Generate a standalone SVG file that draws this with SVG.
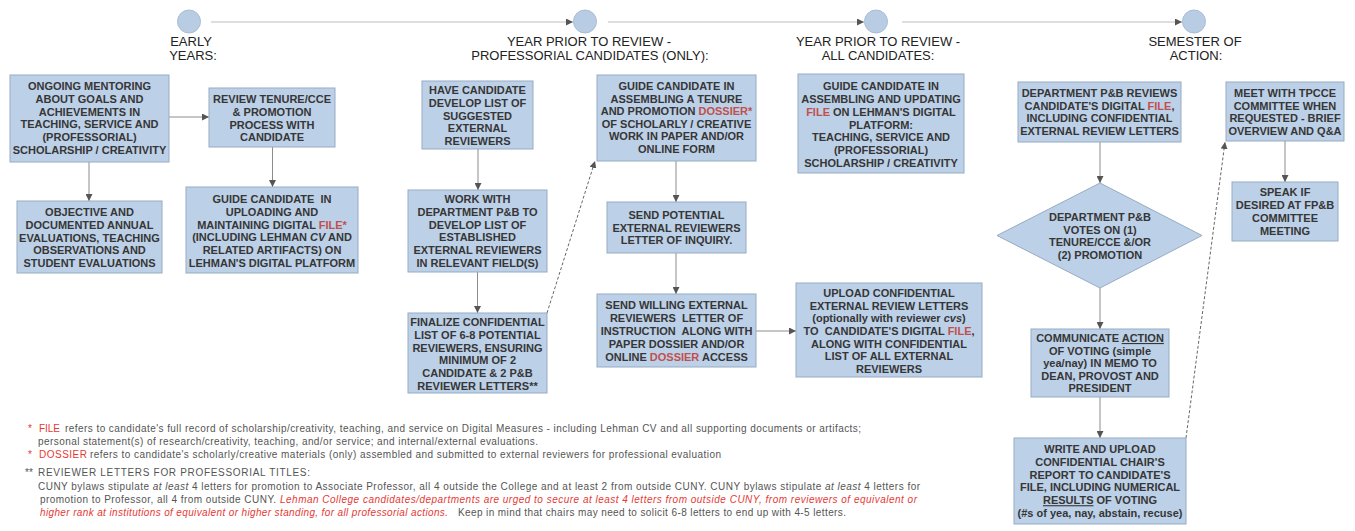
<svg xmlns="http://www.w3.org/2000/svg" width="1355" height="531" viewBox="0 0 1355 531">
<style>
.box{fill:#bcd0e7;stroke:#97abc3;stroke-width:1}
.dot{fill:#b8cce4;stroke:#a9bdd6;stroke-width:1}
.bt{font-family:"Liberation Sans",Arial,sans-serif;font-size:11px;font-weight:bold;fill:#363636;text-anchor:middle}
.red{fill:#c0504d}
.lbl{font-family:"Liberation Sans",Arial,sans-serif;font-size:13px;fill:#222;text-anchor:middle}
.conn{stroke:#8c8c8c;stroke-width:1;fill:none}
.dash{stroke:#666;stroke-dasharray:3,2}
.tl{stroke:#bdbdbd;stroke-width:1.2;fill:none}
.fn{font-family:"Liberation Sans",Arial,sans-serif;font-size:10px;fill:#555}
.fr{fill:#e53935}
.it{font-style:italic}
</style>
<defs>
<marker id="ah" viewBox="0 0 10 10" refX="10" refY="5" markerWidth="7" markerHeight="7" markerUnits="userSpaceOnUse" orient="auto">
<path d="M0,0 L10,5 L0,10 z" fill="#555"/>
</marker>
</defs>
<rect width="1355" height="531" fill="#fff"/>

<g id="timeline">
<circle class="dot" cx="189" cy="21.5" r="11.5"/>
<circle class="dot" cx="585" cy="21.5" r="11.5"/>
<circle class="dot" cx="876" cy="21.5" r="11.5"/>
<circle class="dot" cx="1194" cy="21.5" r="11.5"/>
<text class="lbl" x="191" y="46">EARLY</text>
<text class="lbl" x="193" y="60">YEARS:</text>
<text class="lbl" x="589" y="46">YEAR PRIOR TO REVIEW -</text>
<text class="lbl" x="590" y="60">PROFESSORIAL CANDIDATES (ONLY):</text>
<text class="lbl" x="878" y="46">YEAR PRIOR TO REVIEW -</text>
<text class="lbl" x="878" y="60">ALL CANDIDATES:</text>
<text class="lbl" x="1195" y="46">SEMESTER OF</text>
<text class="lbl" x="1196" y="60">ACTION:</text>
</g>

<g id="connectors">
<line class="tl" x1="211" y1="22" x2="573" y2="22" marker-end="url(#ah)"/>
<line class="tl" x1="608" y1="22" x2="864" y2="22" marker-end="url(#ah)"/>
<line class="tl" x1="902" y1="22" x2="1182" y2="22" marker-end="url(#ah)"/>
<line class="conn" x1="169" y1="117" x2="209" y2="117" marker-end="url(#ah)"/>
<line class="conn" x1="89" y1="162" x2="89" y2="201" marker-end="url(#ah)"/>
<line class="conn" x1="272.5" y1="147" x2="272.5" y2="187" marker-end="url(#ah)"/>
<line class="conn" x1="478" y1="149" x2="478" y2="190" marker-end="url(#ah)"/>
<line class="conn" x1="477.5" y1="272" x2="477.5" y2="313" marker-end="url(#ah)"/>
<line class="conn dash" x1="547" y1="313" x2="595" y2="161" marker-end="url(#ah)"/>
<line class="conn" x1="676" y1="161" x2="676" y2="202" marker-end="url(#ah)"/>
<line class="conn" x1="676" y1="253" x2="676" y2="294" marker-end="url(#ah)"/>
<line class="conn" x1="756" y1="331" x2="796" y2="331" marker-end="url(#ah)"/>
<line class="conn" x1="1100" y1="142" x2="1100" y2="183" marker-end="url(#ah)"/>
<line class="conn" x1="1100" y1="288" x2="1100" y2="329" marker-end="url(#ah)"/>
<line class="conn" x1="1100" y1="397" x2="1100" y2="438" marker-end="url(#ah)"/>
<line class="conn dash" x1="1186" y1="438" x2="1225" y2="142" marker-end="url(#ah)"/>
<line class="conn" x1="1285" y1="141" x2="1285" y2="182" marker-end="url(#ah)"/>
</g>

<g id="n-mentoring">
<rect class="box" x="10" y="75" width="159" height="87"/>
<text class="bt" x="89.5" y="90">ONGOING MENTORING</text>
<text class="bt" x="89.5" y="102.8">ABOUT GOALS AND</text>
<text class="bt" x="89.5" y="115.6">ACHIEVEMENTS IN</text>
<text class="bt" x="89.5" y="128.4">TEACHING, SERVICE AND</text>
<text class="bt" x="89.5" y="141.2">(PROFESSORIAL)</text>
<text class="bt" x="89.5" y="154">SCHOLARSHIP / CREATIVITY</text>
</g>

<g id="n-review">
<rect class="box" x="209" y="88" width="126" height="59"/>
<text class="bt" x="272" y="103">REVIEW TENURE/CCE</text>
<text class="bt" x="272" y="116">&amp; PROMOTION</text>
<text class="bt" x="272" y="129">PROCESS WITH</text>
<text class="bt" x="272" y="141">CANDIDATE</text>
</g>

<g id="n-objective">
<rect class="box" x="17" y="201" width="145" height="72"/>
<text class="bt" x="89.5" y="216">OBJECTIVE AND</text>
<text class="bt" x="89.5" y="228.8">DOCUMENTED ANNUAL</text>
<text class="bt" x="89.5" y="241.6">EVALUATIONS, TEACHING</text>
<text class="bt" x="89.5" y="254.4">OBSERVATIONS AND</text>
<text class="bt" x="89.5" y="267.2">STUDENT EVALUATIONS</text>
</g>

<g id="n-upload">
<rect class="box" x="186" y="187" width="172" height="86"/>
<text class="bt" x="272" y="203" xml:space="preserve">GUIDE CANDIDATE  IN</text>
<text class="bt" x="272" y="215.8">UPLOADING AND</text>
<text class="bt" x="272" y="228.6">MAINTAINING DIGITAL <tspan class="red">FILE*</tspan></text>
<text class="bt" x="272" y="241.4">(INCLUDING LEHMAN <tspan class="it">CV</tspan> AND</text>
<text class="bt" x="272" y="254.2">RELATED ARTIFACTS) ON</text>
<text class="bt" x="272" y="267">LEHMAN'S DIGITAL PLATFORM</text>
</g>

<g id="n-suggested">
<rect class="box" x="422" y="81" width="111" height="68"/>
<text class="bt" x="477.5" y="94">HAVE CANDIDATE</text>
<text class="bt" x="477.5" y="106.8">DEVELOP LIST OF</text>
<text class="bt" x="477.5" y="119.6">SUGGESTED</text>
<text class="bt" x="477.5" y="132.4">EXTERNAL</text>
<text class="bt" x="477.5" y="145.2">REVIEWERS</text>
</g>

<g id="n-dossier">
<rect class="box" x="597" y="75" width="159" height="86"/>
<text class="bt" x="676.5" y="90">GUIDE CANDIDATE IN</text>
<text class="bt" x="676.5" y="102.6">ASSEMBLING A TENURE</text>
<text class="bt" x="676.5" y="115.2">AND PROMOTION <tspan class="red">DOSSIER*</tspan></text>
<text class="bt" x="676.5" y="127.8">OF SCHOLARLY / CREATIVE</text>
<text class="bt" x="676.5" y="140.4">WORK IN PAPER AND/OR</text>
<text class="bt" x="676.5" y="153">ONLINE FORM</text>
</g>

<g id="n-established">
<rect class="box" x="408" y="190" width="139" height="82"/>
<text class="bt" x="477.5" y="203">WORK WITH</text>
<text class="bt" x="477.5" y="215.8">DEPARTMENT P&amp;B TO</text>
<text class="bt" x="477.5" y="228.6">DEVELOP LIST OF</text>
<text class="bt" x="477.5" y="241.4">ESTABLISHED</text>
<text class="bt" x="477.5" y="254.2">EXTERNAL REVIEWERS</text>
<text class="bt" x="477.5" y="267">IN RELEVANT FIELD(S)</text>
</g>

<g id="n-finalize">
<rect class="box" x="408" y="313" width="139" height="80"/>
<text class="bt" x="477.5" y="326">FINALIZE CONFIDENTIAL</text>
<text class="bt" x="477.5" y="338.8">LIST OF 6-8 POTENTIAL</text>
<text class="bt" x="477.5" y="351.6">REVIEWERS, ENSURING</text>
<text class="bt" x="477.5" y="364.4">MINIMUM OF 2</text>
<text class="bt" x="477.5" y="377.2">CANDIDATE &amp; 2 P&amp;B</text>
<text class="bt" x="477.5" y="390">REVIEWER LETTERS**</text>
</g>

<g id="n-inquiry">
<rect class="box" x="607" y="202" width="139" height="51"/>
<text class="bt" x="676.5" y="219">SEND POTENTIAL</text>
<text class="bt" x="676.5" y="231.5">EXTERNAL REVIEWERS</text>
<text class="bt" x="676.5" y="244">LETTER OF INQUIRY.</text>
</g>

<g id="n-instruction">
<rect class="box" x="597" y="294" width="159" height="73"/>
<text class="bt" x="676.5" y="309">SEND WILLING EXTERNAL</text>
<text class="bt" x="676.5" y="322" xml:space="preserve">REVIEWERS  LETTER OF</text>
<text class="bt" x="676.5" y="335" xml:space="preserve">INSTRUCTION  ALONG WITH</text>
<text class="bt" x="676.5" y="348">PAPER DOSSIER AND/OR</text>
<text class="bt" x="676.5" y="361">ONLINE <tspan class="red">DOSSIER</tspan> ACCESS</text>
</g>

<g id="n-letters">
<rect class="box" x="796" y="283" width="186" height="94"/>
<text class="bt" x="889" y="297">UPLOAD CONFIDENTIAL</text>
<text class="bt" x="889" y="309.7">EXTERNAL REVIEW LETTERS</text>
<text class="bt" x="889" y="322.3">(optionally with reviewer <tspan class="it">cvs</tspan>)</text>
<text class="bt" x="889" y="335" xml:space="preserve">TO  CANDIDATE'S DIGITAL <tspan class="red">FILE</tspan>,</text>
<text class="bt" x="889" y="347.7">ALONG WITH CONFIDENTIAL</text>
<text class="bt" x="889" y="360.3">LIST OF ALL EXTERNAL</text>
<text class="bt" x="889" y="373">REVIEWERS</text>
</g>

<g id="n-updating">
<rect class="box" x="798" y="74" width="166" height="99"/>
<text class="bt" x="881" y="90">GUIDE CANDIDATE IN</text>
<text class="bt" x="881" y="102.8">ASSEMBLING AND UPDATING</text>
<text class="bt" x="881" y="115.7"><tspan class="red">FILE</tspan> ON LEHMAN'S DIGITAL</text>
<text class="bt" x="881" y="128.5">PLATFORM:</text>
<text class="bt" x="881" y="141.3">TEACHING, SERVICE AND</text>
<text class="bt" x="881" y="154.2">(PROFESSORIAL)</text>
<text class="bt" x="881" y="167">SCHOLARSHIP / CREATIVITY</text>
</g>

<g id="n-deptreview">
<rect class="box" x="1018" y="82" width="163" height="60"/>
<text class="bt" x="1099.5" y="97">DEPARTMENT P&amp;B REVIEWS</text>
<text class="bt" x="1099.5" y="109.7">CANDIDATE'S DIGITAL <tspan class="red">FILE</tspan>,</text>
<text class="bt" x="1099.5" y="122.3">INCLUDING CONFIDENTIAL</text>
<text class="bt" x="1099.5" y="135">EXTERNAL REVIEW LETTERS</text>
</g>

<g id="n-votes">
<polygon class="box" points="1100,183 1202,235.5 1100,288 997,235.5"/>
<text class="bt" x="1100" y="221">DEPARTMENT P&amp;B</text>
<text class="bt" x="1100" y="233.7">VOTES ON (1)</text>
<text class="bt" x="1100" y="246.3">TENURE/CCE &amp;/OR</text>
<text class="bt" x="1100" y="259">(2) PROMOTION</text>
</g>

<g id="n-communicate">
<rect class="box" x="1031" y="329" width="138" height="68"/>
<text class="bt" x="1100" y="342">COMMUNICATE <tspan text-decoration="underline">ACTION</tspan></text>
<text class="bt" x="1100" y="354.5">OF VOTING (simple</text>
<text class="bt" x="1100" y="367">yea/nay) IN MEMO TO</text>
<text class="bt" x="1100" y="379.5">DEAN, PROVOST AND</text>
<text class="bt" x="1100" y="392">PRESIDENT</text>
</g>

<g id="n-write">
<rect class="box" x="1014" y="438" width="172" height="86"/>
<text class="bt" x="1100" y="453">WRITE AND UPLOAD</text>
<text class="bt" x="1100" y="465.8">CONFIDENTIAL CHAIR'S</text>
<text class="bt" x="1100" y="478.6">REPORT TO CANDIDATE'S</text>
<text class="bt" x="1100" y="491.4">FILE, INCLUDING NUMERICAL</text>
<text class="bt" x="1100" y="504.2"><tspan text-decoration="underline">RESULTS</tspan> OF VOTING</text>
<text class="bt" x="1100" y="517">(#s of yea, nay, abstain, recuse)</text>
</g>

<g id="n-meet">
<rect class="box" x="1226" y="82" width="118" height="59"/>
<text class="bt" x="1285" y="97">MEET WITH TPCCE</text>
<text class="bt" x="1285" y="109.7">COMMITTEE WHEN</text>
<text class="bt" x="1285" y="122.3">REQUESTED - BRIEF</text>
<text class="bt" x="1285" y="135">OVERVIEW AND Q&amp;A</text>
</g>

<g id="n-speak">
<rect class="box" x="1232" y="182" width="106" height="59"/>
<text class="bt" x="1285" y="196">SPEAK IF</text>
<text class="bt" x="1285" y="209">DESIRED AT FP&amp;B</text>
<text class="bt" x="1285" y="222">COMMITTEE</text>
<text class="bt" x="1285" y="235">MEETING</text>
</g>

<g id="footnotes">
<text class="fn fr" x="28" y="432">*</text>
<text class="fn fr" x="39" y="432" font-size="11" textLength="21" lengthAdjust="spacingAndGlyphs">FILE</text>
<text class="fn" x="65" y="432" textLength="796" lengthAdjust="spacing">refers to candidate's full record of scholarship/creativity, teaching, and service on Digital Measures - including Lehman CV and all supporting documents or artifacts;</text>
<text class="fn" x="38" y="445" textLength="500" lengthAdjust="spacing">personal statement(s) of research/creativity, teaching, and/or service; and internal/external evaluations.</text>
<text class="fn fr" x="28" y="458">*</text>
<text class="fn fr" x="39" y="458" font-size="11" textLength="48" lengthAdjust="spacing">DOSSIER</text>
<text class="fn" x="90" y="458" textLength="631" lengthAdjust="spacing">refers to candidate's scholarly/creative materials (only) assembled and submitted to external reviewers for professional evaluation</text>
<text class="fn" x="25" y="476">**</text>
<text class="fn" x="38" y="476" font-size="11" textLength="272" lengthAdjust="spacing">REVIEWER LETTERS FOR PROFESSORIAL TITLES:</text>
<text class="fn" x="38" y="490" textLength="882" lengthAdjust="spacing">CUNY bylaws stipulate <tspan class="it">at least</tspan> 4 letters for promotion to Associate Professor, all 4 outside the College and at least 2 from outside CUNY.  CUNY bylaws stipulate <tspan class="it">at least</tspan> 4 letters for</text>
<text class="fn" x="40" y="503" textLength="236" lengthAdjust="spacing">promotion to Professor, all 4 from outside CUNY.</text>
<text class="fn fr it" x="280" y="503" textLength="637" lengthAdjust="spacing">Lehman College candidates/departments are urged to secure at least 4 letters from outside CUNY, from reviewers of equivalent or</text>
<text class="fn fr it" x="40" y="516" textLength="408" lengthAdjust="spacing">higher rank at institutions of equivalent or higher standing, for all professorial actions.</text>
<text class="fn" x="458" y="516" textLength="388" lengthAdjust="spacing">Keep in mind that chairs may need to solicit 6-8 letters to end up with 4-5 letters.</text>
</g>
</svg>
